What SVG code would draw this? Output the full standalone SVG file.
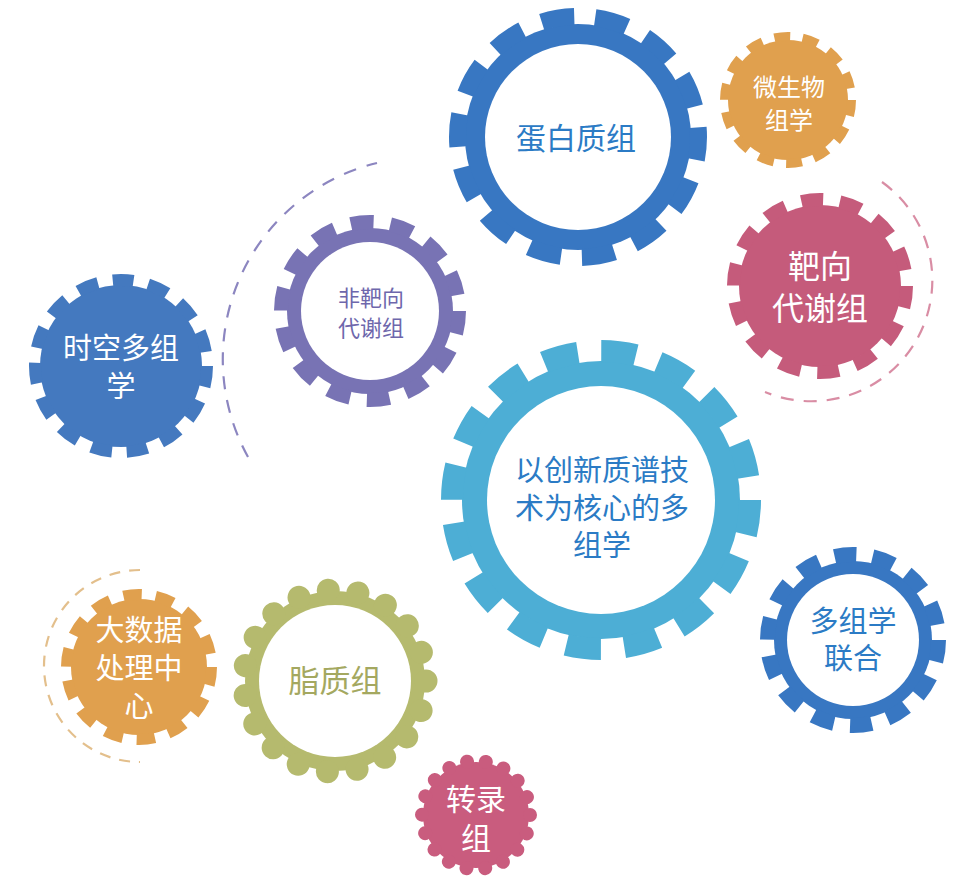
<svg xmlns="http://www.w3.org/2000/svg" width="961" height="884" viewBox="0 0 961 884">
<style>
text{font-family:"Noto Sans CJK SC","Noto Sans",sans-serif;text-anchor:middle}
.w{fill:#ffffff}
.arc{fill:none;stroke-width:2.2}
.teeth{fill:none}
.dots{fill:none;stroke-linecap:round}
</style>
<rect width="961" height="884" fill="#ffffff"/>
<g id="arcs">
<path class="arc" d="M 882 182 A 121 121 0 0 1 765 392" stroke="#D98DA4" stroke-dasharray="13 10"/>
<path class="arc" d="M 248 457 A 202 202 0 0 1 377 163" stroke="#8C86C0" stroke-dasharray="13 11"/>
<path class="arc" d="M 140 570 A 96 96 0 0 0 140 762" stroke="#E3BF8C" stroke-dasharray="11 9"/>
</g>
<g id="gear-proteome">
<circle cx="578" cy="137" r="113" fill="#3877C2"/>
<circle class="teeth" cx="578" cy="137" r="120.5" stroke="#3877C2" stroke-width="17" stroke-dasharray="33 21.08" stroke-dashoffset="10"/>
<circle cx="578" cy="137" r="93" fill="#ffffff"/>
<text x="576" y="149" font-size="30" fill="#2B7BC5">蛋白质组</text>
</g>
<g id="gear-microbiome">
<circle cx="788" cy="100" r="60" fill="#E0A04E"/>
<circle class="teeth" cx="788" cy="100" r="63.5" stroke="#E0A04E" stroke-width="9" stroke-dasharray="16 12.5"/>
<text class="w" x="789" y="96" font-size="24">微生物</text>
<text class="w" x="789" y="129" font-size="24">组学</text>
</g>
<g id="gear-targeted">
<circle cx="820" cy="286" r="81" fill="#C55B7B"/>
<circle class="teeth" cx="820" cy="286" r="86.5" stroke="#C55B7B" stroke-width="13" stroke-dasharray="22 16.82"/>
<text class="w" x="820" y="278" font-size="32">靶向</text>
<text class="w" x="820" y="320" font-size="32">代谢组</text>
</g>
<g id="gear-untargeted">
<circle cx="370" cy="311" r="83" fill="#7873B4"/>
<circle class="teeth" cx="370" cy="311" r="89" stroke="#7873B4" stroke-width="14" stroke-dasharray="23 16.94"/>
<circle cx="370" cy="311" r="69" fill="#ffffff"/>
<text x="371" y="306" font-size="22" fill="#6E67AC">非靶向</text>
<text x="371" y="336" font-size="22" fill="#6E67AC">代谢组</text>
</g>
<g id="gear-spatial">
<circle cx="121" cy="366" r="81" fill="#4479BF"/>
<circle class="teeth" cx="121" cy="366" r="86" stroke="#4479BF" stroke-width="12" stroke-dasharray="21 15.02"/>
<text class="w" x="121" y="359" font-size="29">时空多组</text>
<text class="w" x="121" y="397" font-size="29">学</text>
</g>
<g id="gear-core">
<circle cx="601" cy="500" r="139" fill="#4DAED5"/>
<circle class="teeth" cx="601" cy="500" r="149" stroke="#4DAED5" stroke-width="22" stroke-dasharray="35 23.51"/>
<circle cx="601" cy="500" r="114" fill="#ffffff"/>
<text x="602" y="481" font-size="29" fill="#2B7BC5">以创新质谱技</text>
<text x="602" y="519" font-size="29" fill="#2B7BC5">术为核心的多</text>
<text x="602" y="556" font-size="29" fill="#2B7BC5">组学</text>
</g>
<g id="gear-integration">
<circle cx="853" cy="640" r="79" fill="#3877C2"/>
<circle class="teeth" cx="853" cy="640" r="85.5" stroke="#3877C2" stroke-width="15" stroke-dasharray="22 16.37"/>
<circle cx="853" cy="640" r="66" fill="#ffffff"/>
<text x="853" y="632" font-size="29" fill="#2B7BC5">多组学</text>
<text x="853" y="669" font-size="29" fill="#2B7BC5">联合</text>
</g>
<g id="gear-lipidome">
<circle cx="335" cy="681" r="90" fill="#B5BA6E"/>
<circle class="dots" cx="335" cy="681" r="91" stroke="#B5BA6E" stroke-width="23" stroke-dasharray="0.01 30.08"/>
<circle cx="335" cy="681" r="76" fill="#ffffff"/>
<text x="335" y="692" font-size="31" fill="#A4A860">脂质组</text>
</g>
<g id="gear-bigdata">
<circle cx="139" cy="667" r="68" fill="#E0A04E"/>
<circle class="teeth" cx="139" cy="667" r="72.5" stroke="#E0A04E" stroke-width="11" stroke-dasharray="18.5 14.04"/>
<text class="w" x="139" y="641" font-size="29">大数据</text>
<text class="w" x="139" y="679" font-size="29">处理中</text>
<text class="w" x="139" y="717" font-size="29">心</text>
</g>
<g id="gear-transcriptome">
<circle cx="476" cy="815" r="53" fill="#C95C7E"/>
<circle class="dots" cx="476" cy="815" r="54" stroke="#C95C7E" stroke-width="14" stroke-dasharray="0.01 18.84"/>
<text class="w" x="476" y="810" font-size="30">转录</text>
<text class="w" x="476" y="849" font-size="30">组</text>
</g>
</svg>
